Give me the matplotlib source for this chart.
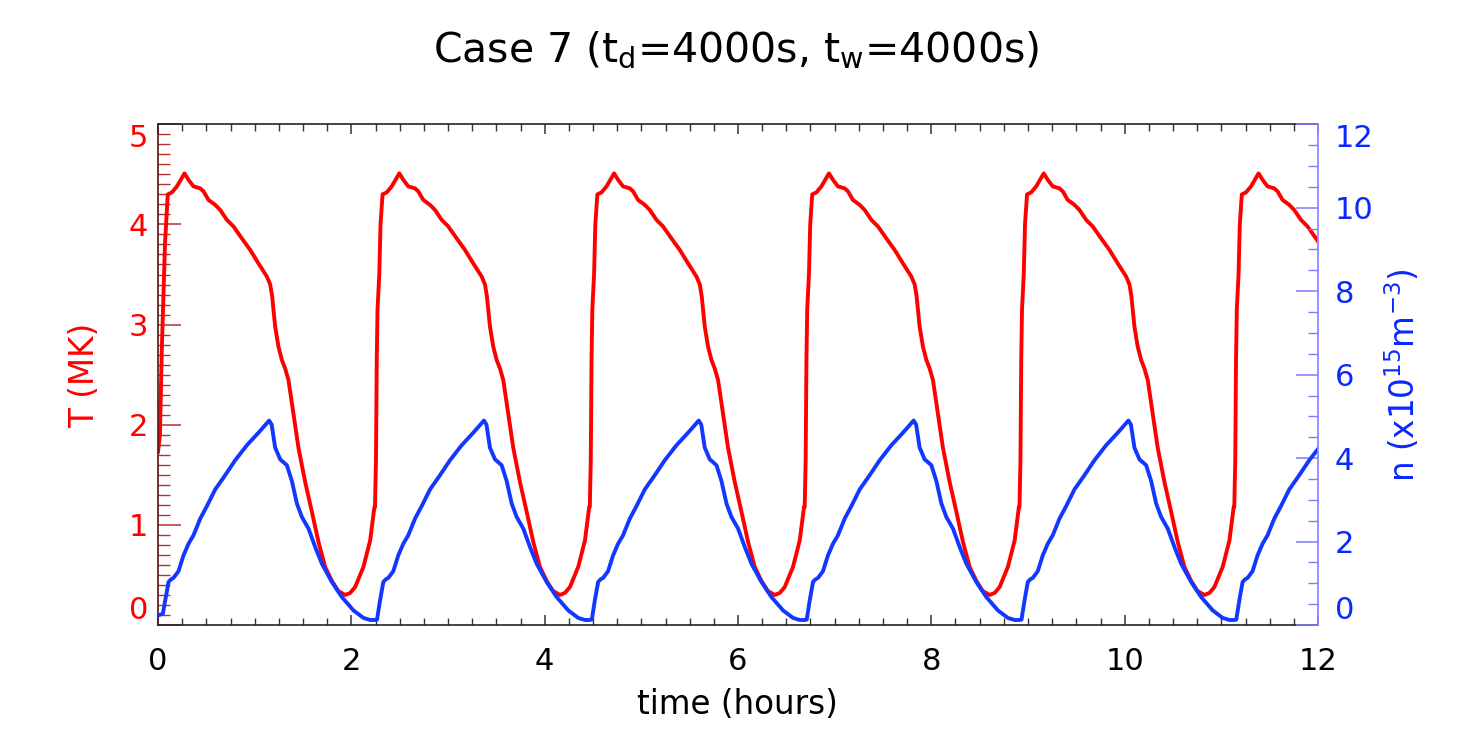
import numpy as np
import matplotlib
matplotlib.use("Agg")
import matplotlib.pyplot as plt
from matplotlib.ticker import MultipleLocator

plt.rcParams['font.family'] = ['DejaVu Sans']

# ---- data ----
# start time (hours) of each heating jump
cycle_start = [0.023, 2.245, 4.467, 6.690, 8.912, 11.134]

# temperature within one cycle: hours after jump, T (MK)
phase_T = [0.000, 0.010, 0.018, 0.026, 0.044, 0.057, 0.078, 0.121, 0.173, 0.251,
           0.293, 0.344, 0.414, 0.448, 0.499, 0.569, 0.620, 0.690, 0.758, 0.845,
           0.931, 1.017, 1.103, 1.138, 1.158, 1.189, 1.223, 1.259, 1.293, 1.327,
           1.378, 1.430, 1.499, 1.569, 1.637, 1.706, 1.776, 1.841, 1.913, 1.965,
           2.017, 2.102, 2.172, 2.216]
T_cycle = [1.18, 1.65, 2.65, 3.15, 3.50, 4.00, 4.30, 4.32, 4.38, 4.51,
           4.445, 4.38, 4.36, 4.33, 4.245, 4.195, 4.145, 4.045, 3.98, 3.86,
           3.745, 3.61, 3.48, 3.40, 3.28, 2.98, 2.78, 2.645, 2.56, 2.445,
           2.11, 1.77, 1.43, 1.13, 0.83, 0.58, 0.44, 0.34, 0.30, 0.32,
           0.38, 0.58, 0.845, 1.18]

# density within one cycle: hours after jump, n (1e15 m^-3)
phase_n = [0.000, 0.021, 0.052, 0.086, 0.109, 0.138, 0.189, 0.241, 0.293, 0.344,
           0.414, 0.483, 0.569, 0.672, 0.776, 0.897, 1.017, 1.127, 1.153, 1.189,
           1.241, 1.310, 1.362, 1.414, 1.465, 1.534, 1.603, 1.672, 1.776, 1.879,
           1.999, 2.102, 2.172, 2.216]
n_cycle = [0.12, 0.13, 0.59, 1.03, 1.09, 1.13, 1.29, 1.67, 1.95, 2.15,
           2.55, 2.85, 3.25, 3.59, 3.95, 4.31, 4.61, 4.90, 4.80, 4.25,
           3.97, 3.83, 3.45, 2.91, 2.59, 2.31, 1.87, 1.47, 1.03, 0.67,
           0.35, 0.17, 0.12, 0.12]

# start of the run (before first cycle is fully developed)
t_init_T = [0.000, 0.020, 0.038, 0.072, 0.096]
T_init = [1.73, 1.90, 2.70, 3.80, 4.20]
t_init_n = [0.000, 0.050]
n_init = [0.23, 0.27]

x_ticks = [0, 2, 4, 6, 8, 10, 12]
T_ticks = [0, 1, 2, 3, 4, 5]
n_ticks = [0, 2, 4, 6, 8, 10, 12]


def build(t_init, v_init, phase, vals):
    t = list(t_init)
    v = list(v_init)
    for k, s in enumerate(cycle_start):
        for p, y in zip(phase, vals):
            tt = s + p
            if k == 0 and tt <= t_init[-1]:
                continue
            t.append(tt)
            v.append(y)
    return np.array(t), np.array(v)


tT, T = build(t_init_T, T_init, phase_T, T_cycle)
tn, n = build(t_init_n, n_init, phase_n, n_cycle)

# ---- figure ----
fig = plt.figure(figsize=(14.75, 7.5), dpi=100)
ax = fig.add_axes([158 / 1475, 125 / 750, (1318 - 158) / 1475, (625 - 124.3) / 750])
ax2 = ax.twinx()

red = '#ff0000'
blue = '#1238ff'
lblue = '#0a28ff'

ax.plot(tT, T, color=red, lw=2.8, solid_joinstyle='round')
ax2.plot(tn, n, color=blue, lw=2.8, solid_joinstyle='round')

ax.set_xlim(0, 12)
ax.set_ylim(0, 5)
ax2.set_ylim(0, 12)

fs = 22
fl = 23.5
ax.set_xticks(x_ticks)
ax.set_xticklabels([str(v) for v in x_ticks], fontsize=fs)
ax.xaxis.set_minor_locator(MultipleLocator(0.25))
ax.tick_params(axis='x', which='both', direction='in', top=True, bottom=True, color='#333333')
ax.tick_params(axis='x', which='major', length=7.5, width=1.1, pad=16)
ax.tick_params(axis='x', which='minor', length=5, width=1.0)

ax.set_yticks(T_ticks)
ax.set_yticklabels([str(v) for v in T_ticks], fontsize=fs, color=red)
ax.yaxis.set_minor_locator(MultipleLocator(0.1))
ax.tick_params(axis='y', which='both', direction='in', left=True, right=False,
               color='#b53030', labelcolor=red)
ax.tick_params(axis='y', which='major', length=16.5, width=1.1, pad=7)
ax.tick_params(axis='y', which='minor', length=8.5, width=1.0)

ax2.set_yticks(n_ticks)
ax2.set_yticklabels([str(v) for v in n_ticks], fontsize=fs, color=lblue)
ax2.yaxis.set_minor_locator(MultipleLocator(0.5))
ax2.tick_params(axis='y', which='both', direction='in', right=True, left=False,
                color='#7b7bff', labelcolor=lblue)
ax2.tick_params(axis='y', which='major', length=16, width=1.1, pad=12)
ax2.tick_params(axis='y', which='minor', length=7.5, width=1.0)

# end labels kept inside the axis range
tl = ax.get_yticklabels()
tl[0].set_verticalalignment('bottom')
tl[-1].set_verticalalignment('top')
tl2 = ax2.get_yticklabels()
tl2[0].set_verticalalignment('bottom')
tl2[-1].set_verticalalignment('top')

for s in ['top', 'bottom']:
    ax.spines[s].set_color('#222222')
    ax.spines[s].set_linewidth(1.2)
ax.spines['left'].set_color('#5a1010')
ax.spines['left'].set_linewidth(1.2)
ax.spines['right'].set_visible(False)
for s in ['top', 'bottom', 'left']:
    ax2.spines[s].set_visible(False)
ax2.spines['right'].set_color('#8a8aff')
ax2.spines['right'].set_linewidth(1.3)

fig.text(0.4993, 0.933, r'Case 7 ($\mathregular{t_d}$=4000s, $\mathregular{t_w}$=4000s)',
         ha='center', va='center', fontsize=29.5)
fig.text(0.5, 0.06, 'time (hours)', ha='center', va='center', fontsize=fl)
fig.text(0.0576, 0.5, 'T (MK)', ha='center', va='center', rotation=90,
         fontsize=fl, color=red)
fig.text(0.951, 0.5, r'n (x10$^{\mathregular{15}}$m$^{\mathregular{-3}}$)', ha='center',
         va='center', rotation=90, fontsize=fl, color=lblue)

fig.savefig('out.png', dpi=100)
